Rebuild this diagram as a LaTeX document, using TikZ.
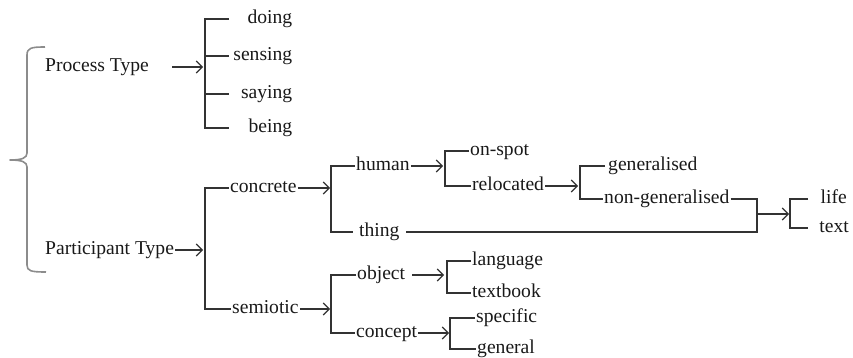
\documentclass[tikz,border=0pt]{standalone}
\usepackage{fontspec}
\setmainfont{Liberation Serif}
\usetikzlibrary{arrows.meta}
\begin{document}
\begin{tikzpicture}[x=1pt,y=-1pt,
  lbl/.style={inner xsep=1pt, inner ysep=0pt, text height=13.3pt, text depth=4.3pt,
    font=\fontsize{19.6pt}{22pt}\selectfont, text=black!90},
  rlbl/.style={lbl, align=right},
  ln/.style={line width=1.1pt, draw=black!80},
  arr/.style={ln, -{Straight Barb[length=6pt,width=12pt,line width=1.1pt]}},
  brace/.style={line width=1.6pt, draw=black!45, line join=round}]
\useasboundingbox (0,0) rectangle (853,358);
% brace
\draw[brace] (45,47) .. controls (31,47) and (27,48) .. (27,55) -- (27,153)
  .. controls (27,158) and (22,160) .. (10,160)
  .. controls (22,160) and (27,162) .. (27,167) -- (27,265)
  .. controls (27,271) and (31,272) .. (46,272);
% process type
\node[lbl, anchor=west] (PT) at (44,67) {Process Type};
\node[rlbl, anchor=west, text width=62pt] (doing) at (229,19) {doing};
\node[rlbl, anchor=west, text width=62pt] (sensing) at (229,56) {sensing};
\node[rlbl, anchor=west, text width=62pt] (saying) at (229,94) {saying};
\node[rlbl, anchor=west, text width=62pt] (being) at (229,128) {being};
\coordinate (b1) at (205,67);
\draw[ln] (doing.west) -| (b1) |- (being.west);
\draw[ln] (b1 |- sensing.west) -- (sensing.west);
\draw[ln] (b1 |- saying.west) -- (saying.west);
\draw[arr] ([xshift=22pt]PT.east) -- ([xshift=-2pt]b1 |- PT.east);
% participant type
\node[lbl, anchor=west] (PaT) at (44,250) {Participant Type};
\node[lbl, anchor=west] (concrete) at (229,188) {concrete};
\node[lbl, anchor=west] (semiotic) at (231,309) {semiotic};
\coordinate (b2) at (205,250);
\draw[ln] (concrete.west) -| (b2) |- (semiotic.west);
\draw[arr] (PaT.east) -- ([xshift=-2pt]b2 |- PaT.east);
% concrete
\coordinate (b3) at (331,188);
\node[lbl, anchor=west] (human) at (355,166) {human};
\node[lbl, anchor=west] (thing) at (358,232) {thing};
\draw[ln] (human.west) -| (b3) |- ([xshift=-5pt]thing.west);
\draw[arr] (concrete.east) -- ([xshift=-1pt]b3 |- concrete.east);
% human
\coordinate (b4) at (445,166);
\node[lbl, anchor=west] (onspot) at (469,151) {on-spot};
\node[lbl, anchor=west] (relocated) at (471,186) {relocated};
\draw[ln] (onspot.west) -| (b4) |- (relocated.west);
\draw[arr] (human.east) -- ([xshift=-2pt]b4 |- human.east);
% relocated
\coordinate (b5) at (580,183);
\node[lbl, anchor=west] (gen) at (607,166) {generalised};
\node[lbl, anchor=west] (nongen) at (603,199) {non-generalised};
\draw[ln] ([xshift=-2pt]gen.west) -| (b5) |- (nongen.west);
\draw[arr] (relocated.east) -- ([xshift=-2pt]b5 |- relocated.east);
% join
\coordinate (j1) at (757,199);
\coordinate (j2) at (757,232);
\coordinate (jm) at (757,214);
\draw[ln] (nongen.east) -- (j1 |- nongen.east) -- (j2) -- ([xshift=5pt]thing.east |- j2);
\coordinate (b6) at (790,214);
\node[lbl, anchor=east] (life) at (848,199) {life};
\node[lbl, anchor=east] (text) at (850,228) {text};
\coordinate (t6a) at (808,199);
\coordinate (t6b) at (808,228);
\draw[ln] (t6a) -| (b6) |- (t6b);
\draw[arr] (jm) -- ([xshift=-1pt]b6);
% semiotic
\coordinate (b7) at (331,309);
\node[lbl, anchor=west] (object) at (356,275) {object};
\node[lbl, anchor=west] (concept) at (355,333) {concept};
\draw[ln] (object.west) -| (b7) |- (concept.west);
\draw[arr] (semiotic.east) -- ([xshift=-1pt]b7 |- semiotic.east);
% object
\coordinate (b8) at (447,275);
\node[lbl, anchor=west] (language) at (471,261) {language};
\node[lbl, anchor=west] (textbook) at (471,293) {textbook};
\draw[ln] (language.west) -| (b8) |- (textbook.west);
\draw[arr] ([xshift=6pt]object.east) -- ([xshift=-3pt]b8 |- object.east);
% concept
\coordinate (b9) at (450,333);
\node[lbl, anchor=west] (specific) at (475,318) {specific};
\node[lbl, anchor=west] (general) at (476,349) {general};
\draw[ln] (specific.west) -| (b9) |- (general.west);
\draw[arr] (concept.east) -- ([xshift=-1pt]b9 |- concept.east);
\end{tikzpicture}
\end{document}
